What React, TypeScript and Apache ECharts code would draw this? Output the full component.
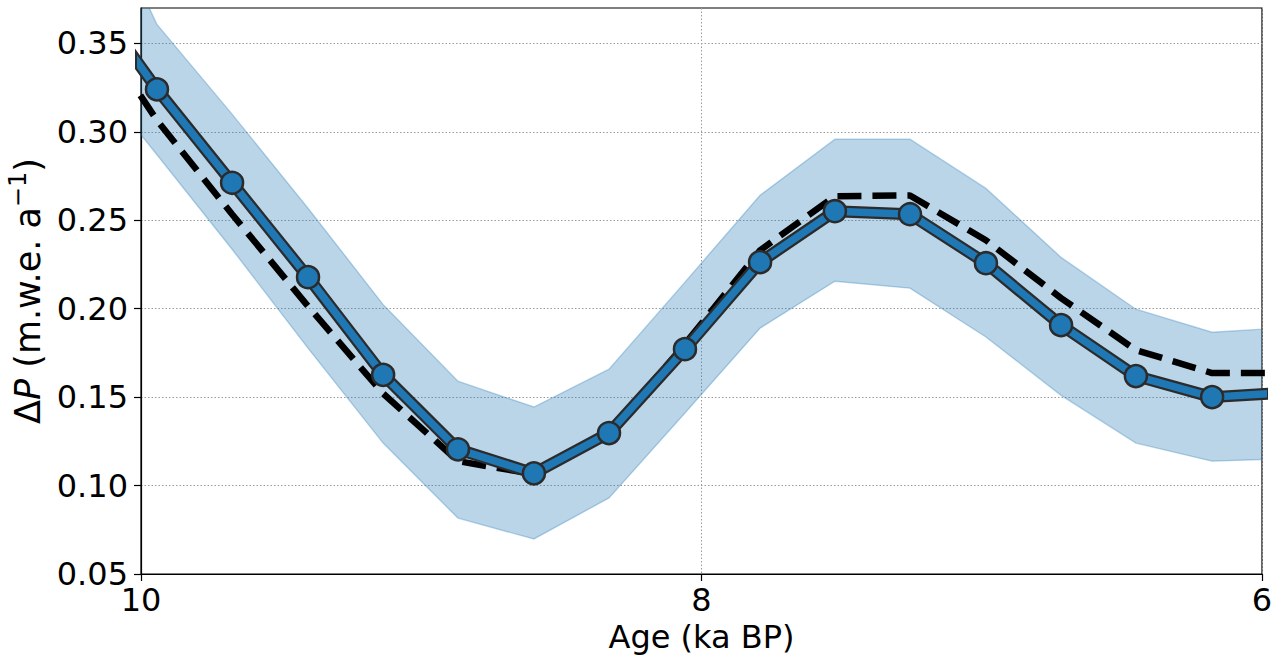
import React, { useEffect, useRef } from "react";
import * as echarts from "echarts";

// Age (ka BP)
const ages = [10.21, 9.943, 9.675, 9.404, 9.136, 8.869, 8.598, 8.33, 8.059, 7.791, 7.524, 7.256, 6.985, 6.717, 6.45, 6.178, 5.91];
// Mean ΔP (blue line with markers)
const meanValues = [0.383, 0.324, 0.2712, 0.2178, 0.1626, 0.1205, 0.1069, 0.1297, 0.1771, 0.2263, 0.2551, 0.2534, 0.2257, 0.1907, 0.1619, 0.150, 0.1526];
// Reference ΔP (black dashed line)
const refValues = [0.37, 0.3065, 0.2534, 0.2014, 0.152, 0.1138, 0.1065, 0.130, 0.180, 0.233, 0.2636, 0.264, 0.2387, 0.206, 0.1766, 0.1636, 0.1636];
// Uncertainty band
const upperValues = [0.451, 0.3607, 0.310, 0.2568, 0.2023, 0.159, 0.1444, 0.1658, 0.215, 0.2641, 0.2958, 0.2958, 0.268, 0.229, 0.1997, 0.1867, 0.1893];
const lowerValues = [0.340, 0.287, 0.2336, 0.1777, 0.124, 0.0816, 0.0698, 0.093, 0.141, 0.189, 0.2155, 0.2116, 0.184, 0.151, 0.124, 0.1138, 0.1152];

const yTicks = [0.05, 0.1, 0.15, 0.2, 0.25, 0.3, 0.35];
const xTicks = [10, 8, 6];

const FONT = "DejaVu Sans";

export default function App() {
  const ref = useRef<HTMLDivElement>(null);

  useEffect(() => {
    if (!ref.current) return;
    const chart = echarts.init(ref.current, null, { renderer: "svg" });

    const pairs = (vals: number[]) => ages.map((a, i) => [a, vals[i]]);
    const bandColor = "rgba(31,119,180,0.31)";

    const option: any = {
      animation: false,
      backgroundColor: "#ffffff",
      textStyle: { fontFamily: FONT },
      grid: {
        left: 141,
        right: 25,
        top: 8,
        bottom: 87,
        outerBoundsMode: "none",
        containLabel: false,
        show: true,
        borderColor: "#000000",
        borderWidth: 1.2,
        backgroundColor: "transparent",
      },
      xAxis: {
        type: "value",
        inverse: true,
        min: 6,
        max: 10,
        interval: 2,
        name: "Age (ka BP)",
        nameLocation: "middle",
        nameGap: 44,
        nameTextStyle: { fontFamily: FONT, fontSize: 32, color: "#000" },
        axisLine: { show: true, lineStyle: { color: "#000", width: 1.2 } },
        axisTick: { show: true, length: 7, lineStyle: { color: "#000", width: 1.2 }, customValues: xTicks },
        axisLabel: {
          fontFamily: FONT,
          fontSize: 32,
          color: "#000",
          margin: 10,
          customValues: xTicks,
          formatter: (v: number) => String(v),
        },
        splitLine: { show: true, lineStyle: { color: "#9a9a9a", width: 1, type: [1.5, 2] } },
      },
      yAxis: {
        type: "value",
        min: 0.05,
        max: 0.37,
        interval: 0.05,
        name: "{n|Δ}{i|P}{n| (m.w.e. a}{s|−1}{n|)}",
        nameLocation: "middle",
        nameRotate: 90,
        nameGap: 94,
        nameTextStyle: {
          fontFamily: FONT,
          fontSize: 35,
          color: "#000",
          rich: {
            n: { fontFamily: FONT, fontSize: 35, color: "#000", lineHeight: 40, verticalAlign: "bottom" },
            i: { fontFamily: FONT, fontSize: 35, color: "#000", fontStyle: "italic", lineHeight: 40, verticalAlign: "bottom" },
            s: { fontFamily: FONT, fontSize: 24, color: "#000", lineHeight: 24, verticalAlign: "top" },
          },
        },
        axisLine: { show: true, lineStyle: { color: "#000", width: 1.2 } },
        axisTick: { show: true, length: 7, lineStyle: { color: "#000", width: 1.2 }, customValues: yTicks },
        axisLabel: {
          fontFamily: FONT,
          fontSize: 32,
          color: "#000",
          margin: 13,
          customValues: yTicks,
          formatter: (v: number) => v.toFixed(2),
        },
        splitLine: { show: true, lineStyle: { color: "#9a9a9a", width: 1, type: [1.5, 2] } },
      },
      series: [
        {
          type: "custom",
          name: "band",
          clip: true,
          data: pairs(upperValues),
          z: 1,
          renderItem: (params: any, api: any) => {
            if (params.dataIndex !== 0) return null;
            const top = ages.map((a, i) => api.coord([a, upperValues[i]]));
            const bot = ages.map((a, i) => api.coord([a, lowerValues[i]])).reverse();
            return {
              type: "polygon",
              shape: { points: top.concat(bot) },
              style: { fill: bandColor, stroke: bandColor, lineWidth: 1.4 },
            };
          },
        },
        {
          type: "line",
          name: "reference",
          data: pairs(refValues),
          symbol: "none",
          lineStyle: { color: "#000", width: 6.5, type: [24, 11], cap: "butt" },
          z: 2,
        },
        {
          type: "line",
          name: "outline",
          data: pairs(meanValues),
          symbol: "none",
          lineStyle: { color: "#2b2b2b", width: 12, cap: "butt", join: "round" },
          z: 3,
        },
        {
          type: "line",
          name: "mean",
          data: pairs(meanValues),
          symbol: "circle",
          symbolSize: 22,
          showAllSymbol: true,
          itemStyle: { color: "#1f77b4", borderColor: "#2b2b2b", borderWidth: 2.5 },
          lineStyle: { color: "#1f77b4", width: 7.5, join: "round" },
          z: 4,
        },
      ],
    };

    chart.setOption(option);
    return () => chart.dispose();
  }, []);

  return (
    <div
      ref={ref}
      style={{ position: "fixed", left: 0, top: 0, width: 1287, height: 661, background: "#fff" }}
    />
  );
}
